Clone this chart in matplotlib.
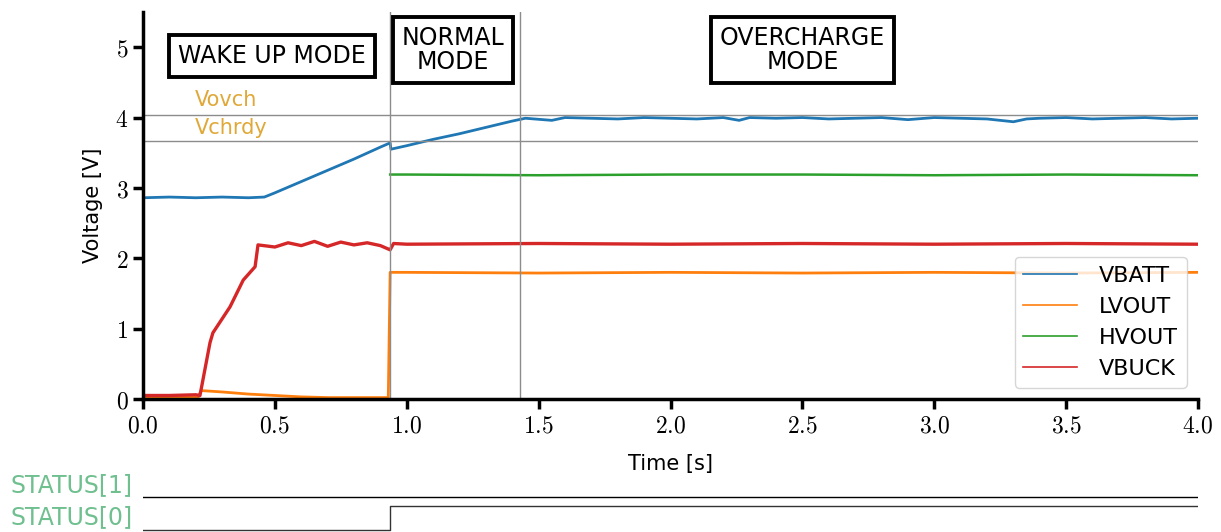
import numpy as np
import matplotlib
matplotlib.use('Agg')
import matplotlib.pyplot as plt
from matplotlib.ticker import FuncFormatter

plt.rcParams['mathtext.fontset'] = 'cm'
plt.rcParams['font.family'] = ['DejaVu Sans']

t_vbatt = [0, 0.1, 0.2, 0.3, 0.4, 0.46, 0.5, 0.6, 0.7, 0.8, 0.9, 0.937, 0.94,
           1.0, 1.1, 1.2, 1.3, 1.4, 1.45, 1.55, 1.6, 1.7, 1.8, 1.9, 2.0, 2.1,
           2.2, 2.26, 2.3, 2.4, 2.5, 2.6, 2.7, 2.8, 2.9, 3.0, 3.1, 3.2, 3.3,
           3.35, 3.4, 3.5, 3.6, 3.7, 3.8, 3.9, 4.0]
vbatt = [2.86, 2.87, 2.86, 2.87, 2.86, 2.87, 2.93, 3.09, 3.25, 3.41, 3.58, 3.64, 3.55,
         3.60, 3.69, 3.77, 3.86, 3.95, 3.99, 3.96, 4.00, 3.99, 3.98, 4.00, 3.99, 3.98,
         4.00, 3.96, 4.00, 3.99, 4.00, 3.98, 3.99, 4.00, 3.97, 4.00, 3.99, 3.98, 3.94,
         3.98, 3.99, 4.00, 3.98, 3.99, 4.00, 3.98, 3.99]

t_lvout = [0, 0.21, 0.22, 0.3, 0.4, 0.5, 0.6, 0.7, 0.8, 0.93, 0.937, 1.0, 1.5,
           2.0, 2.5, 3.0, 3.5, 4.0]
lvout = [0.03, 0.03, 0.12, 0.10, 0.07, 0.05, 0.03, 0.02, 0.02, 0.02, 1.80, 1.80, 1.79,
         1.80, 1.79, 1.80, 1.79, 1.80]

t_hvout = [0.937, 1.0, 1.5, 2.0, 2.5, 3.0, 3.5, 4.0]
hvout = [3.19, 3.19, 3.18, 3.19, 3.19, 3.18, 3.19, 3.18]

t_vbuck = [0, 0.1, 0.2, 0.216, 0.254, 0.265, 0.33, 0.38, 0.425, 0.436, 0.5, 0.55,
           0.6, 0.65, 0.7, 0.75, 0.8, 0.85, 0.9, 0.937, 0.95, 1.0, 1.5, 2.0, 2.5,
           3.0, 3.5, 4.0]
vbuck = [0.05, 0.05, 0.06, 0.05, 0.80, 0.94, 1.31, 1.69, 1.88, 2.19, 2.16, 2.22,
         2.18, 2.24, 2.17, 2.23, 2.19, 2.22, 2.18, 2.12, 2.21, 2.20, 2.21, 2.20, 2.21,
         2.20, 2.21, 2.20]

v_ovch = 4.03
v_chrdy = 3.66
t_modes = [0.937, 1.43]

status_t = [0, 0.937, 4.0]
status0 = [0, 1, 1]
status1 = [0, 0, 0]

fig = plt.figure(figsize=(12.21, 5.32), dpi=100)
ax = fig.add_axes([143 / 1221, 1 - 399 / 532, 1055 / 1221, 387 / 532])

ax.plot(t_vbatt, vbatt, color='#1f77b4', lw=2.0, label='VBATT')
ax.plot(t_lvout, lvout, color='#ff7f0e', lw=2.0, label='LVOUT')
ax.plot(t_hvout, hvout, color='#2ca02c', lw=1.8, label='HVOUT')
ax.plot(t_vbuck, vbuck, color='#d62728', lw=2.4, label='VBUCK')

ax.axhline(v_ovch, color='#8c8c8c', lw=1)
ax.axhline(v_chrdy, color='#8c8c8c', lw=1)
for tm in t_modes:
    ax.axvline(tm, color='#8c8c8c', lw=1)

ax.text(0.197, 4.25, 'Vovch', color='#e0a838', fontsize=15, va='center')
ax.text(0.197, 3.85, 'Vchrdy', color='#e0a838', fontsize=15, va='center')

box = dict(boxstyle='square,pad=0.38', fc='white', ec='black', lw=2.8)
ax.text(0.49, 4.87, 'WAKE UP MODE', fontsize=17, ha='center', va='center', bbox=box)
ax.text(1.175, 4.96, 'NORMAL\nMODE', fontsize=17, ha='center', va='center',
        linespacing=1.0, bbox=box)
ax.text(2.50, 4.96, 'OVERCHARGE\nMODE', fontsize=17, ha='center', va='center',
        linespacing=1.0, bbox=box)

ax.set_xlim(0, 4)
ax.set_ylim(0, 5.5)
ax.set_xticks(np.arange(0, 4.01, 0.5))
ax.set_yticks(range(6))
ax.xaxis.set_major_formatter(FuncFormatter(lambda v, p: '$%.1f$' % v))
ax.yaxis.set_major_formatter(FuncFormatter(lambda v, p: '$%d$' % v))
ax.tick_params(width=2.5, length=7, labelsize=17)
for s in ['top', 'right']:
    ax.spines[s].set_visible(False)
for s in ['left', 'bottom']:
    ax.spines[s].set_linewidth(2.5)

ax.set_xlabel('Time [s]', fontsize=15, labelpad=12)
ax.set_ylabel('Voltage [V]', fontsize=15, labelpad=9)

leg = ax.legend(loc='lower right', fontsize=16, handlelength=2.4, labelspacing=0.5,
                handletextpad=1.0)
for h in leg.get_lines():
    h.set_linewidth(1.2)

# status bits below the main plot
sax = fig.add_axes([143 / 1221, 0, 1055 / 1221, 52 / 532])
sax.set_xlim(0, 4)
sax.set_ylim(-0.083, 2.083)
sax.axis('off')
sax.plot(status_t, np.array(status1) + 1.375, color='black', lw=1, drawstyle='steps-post')
sax.plot(status_t, status0, color='#333333', lw=1, drawstyle='steps-post')

fig.text(10 / 1221, 1 - 485 / 532, 'STATUS[1]', color='#6fbf8f', fontsize=17, va='center')
fig.text(10 / 1221, 1 - 517 / 532, 'STATUS[0]', color='#6fbf8f', fontsize=17, va='center')

fig.savefig('out.png', dpi=100)
